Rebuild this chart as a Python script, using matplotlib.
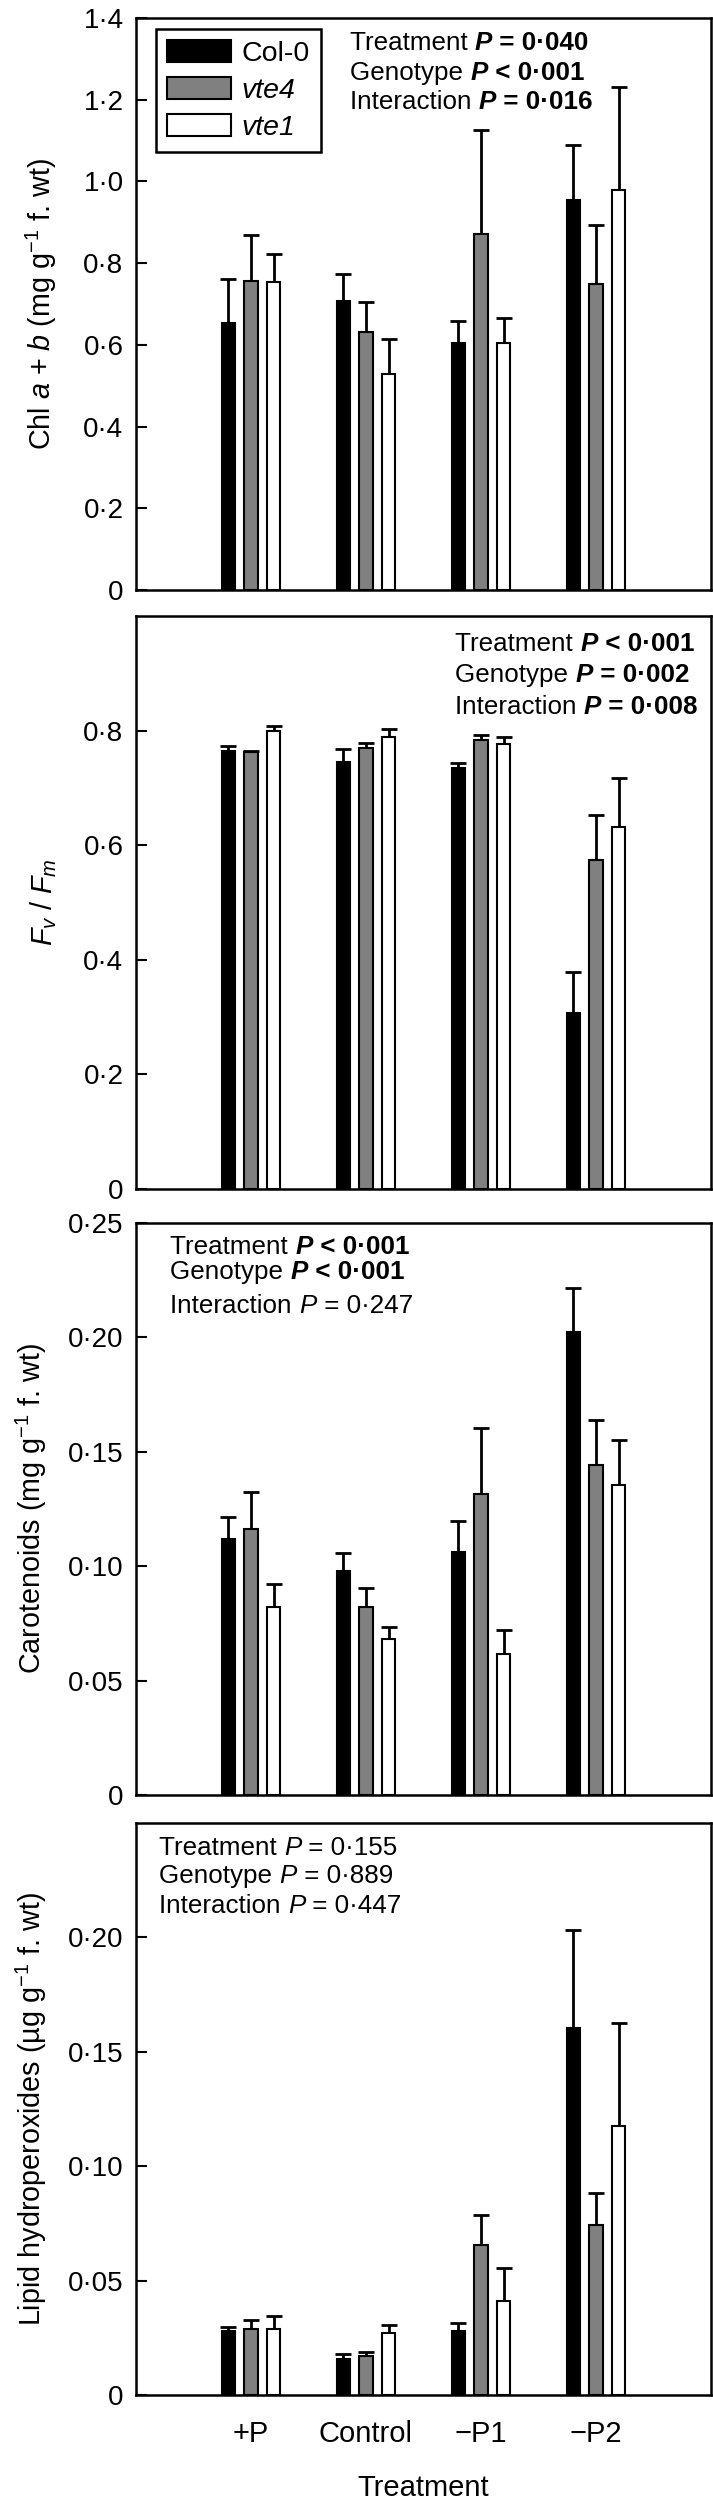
import numpy as np
import matplotlib
matplotlib.use('Agg')
import matplotlib.pyplot as plt

plt.rcParams['font.family'] = ['Liberation Sans', 'DejaVu Sans']
plt.rcParams['mathtext.fontset'] = 'custom'
plt.rcParams['mathtext.rm'] = 'Liberation Sans'
plt.rcParams['mathtext.it'] = 'Liberation Sans:italic'
plt.rcParams['mathtext.bf'] = 'Liberation Sans:bold'

# 数据
treatments = ['+P', 'Control', '\u2212P1', '\u2212P2']
genotypes = ['Col-0', 'vte4', 'vte1']
colors = ['black', '#808080', 'white']

chl_mean = [[0.653, 0.708, 0.604, 0.955],
            [0.757, 0.632, 0.872, 0.750],
            [0.753, 0.528, 0.605, 0.978]]
chl_err = [[0.107, 0.065, 0.054, 0.134],
           [0.111, 0.074, 0.255, 0.144],
           [0.069, 0.087, 0.061, 0.253]]

fvfm_mean = [[0.764, 0.745, 0.735, 0.308],
             [0.763, 0.769, 0.783, 0.575],
             [0.799, 0.788, 0.776, 0.631]]
fvfm_err = [[0.009, 0.023, 0.009, 0.070],
            [0.001, 0.010, 0.009, 0.078],
            [0.009, 0.014, 0.012, 0.087]]

car_mean = [[0.1120, 0.0979, 0.1063, 0.2023],
            [0.1163, 0.0820, 0.1316, 0.1441],
            [0.0820, 0.0680, 0.0618, 0.1356]]
car_err = [[0.0097, 0.0080, 0.0133, 0.0194],
           [0.0162, 0.0086, 0.0290, 0.0198],
           [0.0104, 0.0054, 0.0102, 0.0194]]

lip_mean = [[0.0279, 0.0156, 0.0279, 0.1603],
            [0.0290, 0.0171, 0.0654, 0.0741],
            [0.0290, 0.0270, 0.0413, 0.1177]]
lip_err = [[0.0017, 0.0023, 0.0036, 0.0431],
           [0.0038, 0.0015, 0.0134, 0.0142],
           [0.0056, 0.0037, 0.0144, 0.0451]]

chl_ticks = [0, 0.2, 0.4, 0.6, 0.8, 1.0, 1.2, 1.4]
chl_ticklabels = ['0', '0·2', '0·4', '0·6', '0·8', '1·0', '1·2', '1·4']
fvfm_ticks = [0, 0.2, 0.4, 0.6, 0.8]
fvfm_ticklabels = ['0', '0·2', '0·4', '0·6', '0·8']
car_ticks = [0, 0.05, 0.10, 0.15, 0.20, 0.25]
car_ticklabels = ['0', '0·05', '0·10', '0·15', '0·20', '0·25']
lip_ticks = [0, 0.05, 0.10, 0.15, 0.20]
lip_ticklabels = ['0', '0·05', '0·10', '0·15', '0·20']

# 统计文字: (标签, 符号, 数值, 是否加粗)
chl_stats = [('Treatment ', '=', '0·040', True),
             ('Genotype ', '<', '0·001', True),
             ('Interaction ', '=', '0·016', True)]
fvfm_stats = [('Treatment ', '<', '0·001', True),
              ('Genotype ', '=', '0·002', True),
              ('Interaction ', '=', '0·008', True)]
car_stats = [('Treatment ', '<', '0·001', True),
             ('Genotype ', '<', '0·001', True),
             ('Interaction ', '=', '0·247', False)]
lip_stats = [('Treatment ', '=', '0·155', False),
             ('Genotype ', '=', '0·889', False),
             ('Interaction ', '=', '0·447', False)]

W, H = 713, 2500
fig = plt.figure(figsize=(W / 100, H / 100), dpi=100)

def px_axes(top, bottom, left=136, right=711):
    return fig.add_axes([left / W, 1 - bottom / H, (right - left) / W, (bottom - top) / H])

def stat_text(ax, x, ys, stats, size=18.7):
    for (lab, sign, val, bold), y in zip(stats, ys):
        w = 'bold' if bold else 'normal'
        t = ax.text(x, y - 0.0045, lab, transform=ax.transAxes, fontsize=size,
                    va='center', ha='left')
        t2 = ax.annotate('P', xy=(1, 0), xycoords=t, va='bottom', ha='left',
                         fontsize=size, fontweight=w, fontstyle='italic')
        ax.annotate(' %s %s' % (sign, val), xy=(1, 0), xycoords=t2, va='bottom', ha='left',
                    fontsize=size, fontweight=w)

def bar_panel(ax, means, errs, ylim, ticks, ticklabels, ylabel, lab_x):
    x = np.arange(1, len(treatments) + 1)
    offs = [-0.196, 0.0, 0.196]
    for i in range(3):
        ax.bar(x + offs[i], means[i], width=0.12, color=colors[i], edgecolor='black',
               linewidth=1.5, zorder=2, label=genotypes[i])
        eb = ax.errorbar(x + offs[i], means[i], yerr=[np.zeros(len(x)), errs[i]], fmt='none',
                         ecolor='black', elinewidth=2, capsize=5.5, capthick=2, zorder=1)
        eb[1][0].set_visible(False)
    ax.set_xlim(0, 5)
    ax.set_ylim(*ylim)
    ax.set_yticks(ticks)
    ax.set_yticklabels(ticklabels)
    ax.set_xticks(x)
    ax.set_xticklabels([])
    ax.tick_params(axis='y', direction='in', length=8, width=1.5, labelsize=20, pad=9)
    ax.tick_params(axis='x', length=0, labelsize=21, pad=18)
    for s in ax.spines.values():
        s.set_linewidth(1.8)
    ax.set_ylabel(ylabel, fontsize=20.7)
    ax.yaxis.set_label_coords(lab_x, 0.5)

ax1 = px_axes(18, 590)
bar_panel(ax1, chl_mean, chl_err, (0, 1.4), chl_ticks, chl_ticklabels,
          'Chl $a$ + $b$ (mg g$^{-1}$ f. wt)', -0.134)
leg = ax1.legend(loc='upper left', bbox_to_anchor=(0.0348, 0.981), borderaxespad=0,
                 fontsize=20.5, handlelength=2.25, handleheight=0.8, labelspacing=0.35,
                 handletextpad=0.35, borderpad=0.4, fancybox=False, framealpha=1,
                 edgecolor='black')
leg.get_frame().set_linewidth(1.8)
for t in leg.get_texts()[1:]:
    t.set_fontstyle('italic')
stat_text(ax1, 0.372, [0.9615, 0.909, 0.857], chl_stats)

ax2 = px_axes(616, 1189)
bar_panel(ax2, fvfm_mean, fvfm_err, (0, 1.0), fvfm_ticks, fvfm_ticklabels,
          '$F_v$ / $F_m$', -0.134)
stat_text(ax2, 0.555, [0.955, 0.901, 0.846], fvfm_stats)

ax3 = px_axes(1223, 1795)
bar_panel(ax3, car_mean, car_err, (0, 0.25), car_ticks, car_ticklabels,
          'Carotenoids (mg g$^{-1}$ f. wt)', -0.151)
stat_text(ax3, 0.06, [0.963, 0.919, 0.859], car_stats)

ax4 = px_axes(1823, 2395)
bar_panel(ax4, lip_mean, lip_err, (0, 0.25), lip_ticks, lip_ticklabels,
          'Lipid hydroperoxides (\u00b5g g$^{-1}$ f. wt)', -0.151)
ax4.set_xticklabels(treatments)
ax4.set_xlabel('Treatment', fontsize=21, labelpad=19)
stat_text(ax4, 0.04, [0.9615, 0.911, 0.86], lip_stats)

fig.savefig('out.png', dpi=100)
